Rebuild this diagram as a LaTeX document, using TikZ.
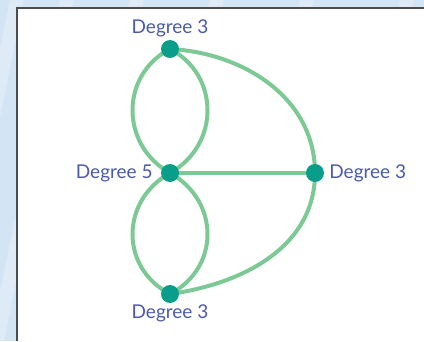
\documentclass[tikz,border=0pt]{standalone}
\usepackage{fontspec}
\setmainfont{Lato}
\usetikzlibrary{positioning}
\definecolor{bgblue}{HTML}{D3E5F5}
\definecolor{edgegreen}{HTML}{7DC995}
\definecolor{vtxteal}{HTML}{0A9E8A}
\definecolor{lblblue}{HTML}{4B5BA8}
\begin{document}
\begin{tikzpicture}[x=1pt,y=1pt,
  vtx/.style={circle,fill=vtxteal,inner sep=0pt,minimum size=18pt},
  lbl/.style={inner sep=1pt,text=lblblue,font=\fontsize{19}{22}\selectfont},
  edge/.style={draw=edgegreen,line width=4pt}]
\useasboundingbox (0,0) rectangle (424,341);
\fill[bgblue] (0,0) rectangle (424,341);
\foreach \s in {-60,-10,60,140,230,330,400} {
  \fill[white,opacity=0.25] (\s,0) -- (\s+14,0) -- (\s+84,341) -- (\s+70,341) -- cycle;
}
\fill[white] (17,0) rectangle (424,333);
\draw[black!70,line width=1.5pt] (17,0) -- (17,333) -- (424,333);
\coordinate (top) at (170,292);
\coordinate (mid) at (170,168);
\coordinate (rgt) at (315,168);
\coordinate (bot) at (170,47);
% two loops
\path[edge] (top) .. controls (120,266) and (120,196) .. (mid);
\path[edge] (top) .. controls (220,266) and (220,196) .. (mid);
\path[edge] (mid) .. controls (120,140) and (120,73) .. (bot);
\path[edge] (mid) .. controls (220,140) and (220,73) .. (bot);
% outer arcs
\path[edge] (top) to[out=-3,in=90] (rgt);
\path[edge] (rgt) to[out=-90,in=8] (bot);
\path[edge] (mid) -- (rgt);
\foreach \v in {top,mid,rgt,bot} { \node[vtx] (\v n) at (\v) {}; }
\node[lbl,above=2pt of topn] (topl) {Degree 3};
\node[lbl,left=7pt of midn] (midl) {Degree 5};
\node[lbl,right=4pt of rgtn] (rgtl) {Degree 3};
\node[lbl,below=0pt of botn] (botl) {Degree 3};
\end{tikzpicture}
\end{document}
